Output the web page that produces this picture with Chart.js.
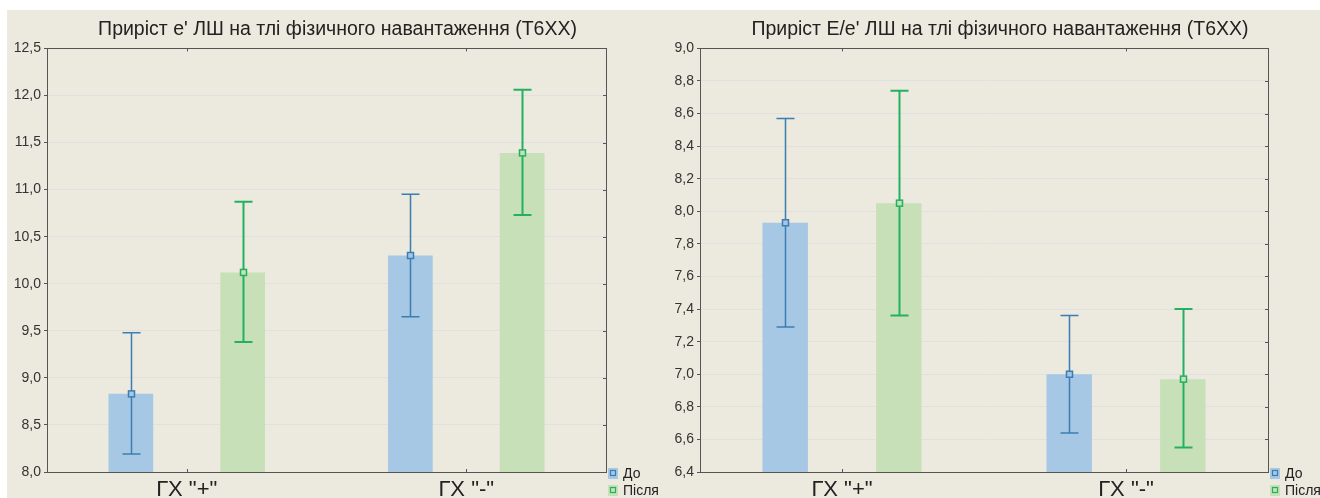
<!DOCTYPE html>
<html lang="uk">
<head>
<meta charset="UTF-8">
<title>Приріст e' та E/e' ЛШ</title>
<script src="https://cdn.jsdelivr.net/npm/chart.js"></script>
<style>
    html, body {
        margin: 0;
        padding: 0;
        width: 1320px;
        height: 498px;
        overflow: hidden;
        background: #ffffff;
        font-family: Arial, "Liberation Sans", sans-serif;
    }
    .panel {
        position: absolute;
        left: 7px;
        top: 10px;
        right: 0;
        bottom: 0;
        background: #ece9de;
    }
    canvas {
        position: absolute;
        top: 10px;
    }
    #chartLeft { left: 7px; }
    #chartRight { left: 660px; }
</style>
</head>
<body>
<div class="panel"></div>
<canvas id="chartLeft" width="661" height="488"></canvas>
<canvas id="chartRight" width="680" height="488"></canvas>

<script>
// categories and series
const categories = ['ГХ "+"', 'ГХ "-"'];
const seriesNames = ['До', 'Після'];

// e' LV (left chart): means and error limits
const ePrimeBefore = [8.83, 10.30];
const ePrimeBeforeLow = [8.19, 9.65];
const ePrimeBeforeHigh = [9.48, 10.95];
const ePrimeAfter = [10.12, 11.39];
const ePrimeAfterLow = [9.38, 10.73];
const ePrimeAfterHigh = [10.87, 12.06];

// E/e' LV (right chart)
const ratioBefore = [7.93, 7.00];
const ratioBeforeLow = [7.29, 6.64];
const ratioBeforeHigh = [8.57, 7.36];
const ratioAfter = [8.05, 6.97];
const ratioAfterLow = [7.36, 6.55];
const ratioAfterHigh = [8.74, 7.40];

const barColors = ['#a6c8e4', '#c7e0b7'];
const lineColors = ['#3b7eb2', '#22b161'];
const lineWidths = [1.5, 2];

const FONT = 'Arial, "Liberation Sans", sans-serif';

// error bars, mean markers, frame ticks and legend
const statPlugin = {
    id: 'statPlugin',
    afterDatasetsDraw(chart) {
        const ctx = chart.ctx;
        const yScale = chart.scales.y;
        const xScale = chart.scales.x;
        const area = chart.chartArea;
        const errors = chart.options.plugins.statPlugin.errors;

        ctx.save();
        chart.data.datasets.forEach((ds, i) => {
            const meta = chart.getDatasetMeta(i);
            ctx.strokeStyle = lineColors[i];
            ctx.lineWidth = lineWidths[i];
            meta.data.forEach((bar, j) => {
                const x = Math.round(bar.x) + 0.5;
                const yLo = yScale.getPixelForValue(errors[i].low[j]);
                const yHi = yScale.getPixelForValue(errors[i].high[j]);
                ctx.beginPath();
                ctx.moveTo(x, yLo);
                ctx.lineTo(x, yHi);
                ctx.moveTo(x - 9, yLo);
                ctx.lineTo(x + 9, yLo);
                ctx.moveTo(x - 9, yHi);
                ctx.lineTo(x + 9, yHi);
                ctx.stroke();
                // mean marker
                ctx.fillStyle = barColors[i];
                ctx.fillRect(x - 3, bar.y - 3, 6, 6);
                ctx.lineWidth = 1.5;
                ctx.strokeRect(x - 3, bar.y - 3, 6, 6);
                ctx.lineWidth = lineWidths[i];
            });
        });

        // frame
        ctx.strokeStyle = '#555';
        ctx.lineWidth = 1;
        ctx.strokeRect(Math.round(area.left) + 0.5, Math.round(area.top) + 0.5,
            Math.round(area.right - area.left), Math.round(area.bottom - area.top));

        // inner tick marks on right side and category marks
        ctx.beginPath();
        yScale.ticks.forEach(t => {
            const y = Math.round(yScale.getPixelForValue(t.value)) + 0.5;
            ctx.moveTo(area.right, y);
            ctx.lineTo(area.right - 3, y);
        });
        categories.forEach((c, k) => {
            const x = Math.round(xScale.getPixelForValue(k)) + 0.5;
            ctx.moveTo(x, area.top);
            ctx.lineTo(x, area.top + 3);
            ctx.moveTo(x, area.bottom);
            ctx.lineTo(x, area.bottom - 3);
        });
        ctx.stroke();

        // legend
        ctx.font = '14px ' + FONT;
        ctx.textBaseline = 'middle';
        ctx.textAlign = 'left';
        chart.data.datasets.forEach((ds, i) => {
            const lx = Math.round(area.right) + 2;
            const ly = Math.round(area.bottom) + 1 + i * 17;
            ctx.fillStyle = barColors[i];
            ctx.fillRect(lx, ly - 5, 10, 11);
            ctx.strokeStyle = lineColors[i];
            ctx.lineWidth = 1.2;
            ctx.strokeRect(lx + 2.5, ly - 2.5, 5, 5);
            ctx.fillStyle = '#222';
            ctx.fillText(ds.label, lx + 15, ly + 1);
        });
        ctx.restore();
    }
};

function makeChart(id, title, before, after, errors, yMin, yMax, step, rightSpace) {
    return new Chart(document.getElementById(id), {
        type: 'bar',
        data: {
            labels: categories,
            datasets: [
                { label: seriesNames[0], data: before, backgroundColor: barColors[0] },
                { label: seriesNames[1], data: after, backgroundColor: barColors[1] }
            ]
        },
        options: {
            responsive: false,
            animation: false,
            categoryPercentage: 0.8,
            barPercentage: 0.4,
            plugins: {
                legend: { display: false },
                tooltip: { enabled: false },
                title: {
                    display: true,
                    text: title,
                    color: '#222',
                    font: { family: FONT, size: 19.5, weight: 'normal' },
                    padding: { top: 8, bottom: 7 }
                },
                statPlugin: { errors: errors }
            },
            scales: {
                x: {
                    grid: { display: true, color: 'rgba(0,0,0,0)', drawTicks: false },
                    border: { display: true, color: '#555' },
                    ticks: {
                        color: '#222',
                        padding: 5,
                        font: { family: FONT, size: 22 }
                    },
                    afterFit(scale) { scale.height = 26; }
                },
                y: {
                    min: yMin,
                    max: yMax,
                    grid: { color: '#e0e0e0', tickColor: '#555', tickLength: 3 },
                    border: { display: true, color: '#555' },
                    ticks: {
                        stepSize: step,
                        color: '#333',
                        padding: 3,
                        font: { family: FONT, size: 14 },
                        callback: v => v.toFixed(1).replace('.', ',')
                    },
                    afterFit(scale) { scale.width = 40; }
                },
                // empty space on the right for the legend
                legendSpace: {
                    type: 'linear',
                    position: 'right',
                    display: true,
                    grid: { display: false, drawTicks: false },
                    border: { display: false },
                    ticks: { display: false },
                    afterFit(scale) { scale.width = rightSpace; }
                }
            }
        },
        plugins: [statPlugin]
    });
}

makeChart('chartLeft', "Приріст е' ЛШ на тлі фізичного навантаження (T6XX)",
    ePrimeBefore, ePrimeAfter,
    [{ low: ePrimeBeforeLow, high: ePrimeBeforeHigh }, { low: ePrimeAfterLow, high: ePrimeAfterHigh }],
    8.0, 12.5, 0.5, 62);

makeChart('chartRight', "Приріст E/e' ЛШ на тлі фізичного навантаження (T6XX)",
    ratioBefore, ratioAfter,
    [{ low: ratioBeforeLow, high: ratioBeforeHigh }, { low: ratioAfterLow, high: ratioAfterHigh }],
    6.4, 9.0, 0.2, 72);
</script>
</body>
</html>
